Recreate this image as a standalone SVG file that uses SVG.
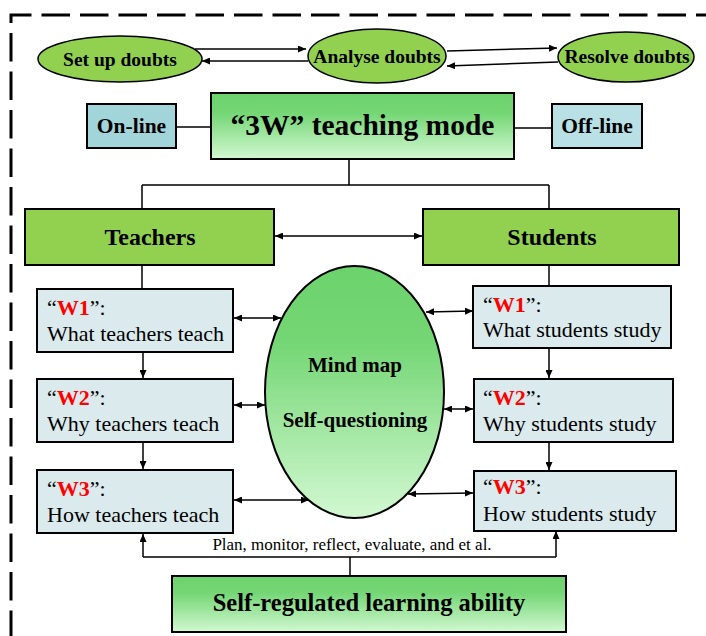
<svg xmlns="http://www.w3.org/2000/svg" width="706" height="636" viewBox="0 0 706 636">
<defs>
<linearGradient id="gg" x1="0" y1="0" x2="0" y2="1">
<stop offset="0" stop-color="#6cd36c"/>
<stop offset="0.3" stop-color="#74d674"/>
<stop offset="1" stop-color="#d2f8d2"/>
</linearGradient>
<marker id="ah" viewBox="0 0 8 7" refX="8" refY="3.5" markerWidth="8" markerHeight="7" markerUnits="userSpaceOnUse" orient="auto-start-reverse">
<path d="M0,0 L8,3.5 L0,7 z" fill="#000"/>
</marker>
<style>
.b{font-family:"Liberation Serif","Times New Roman",serif;font-weight:bold;fill:#000;text-anchor:middle}
.r{font-family:"Liberation Serif","Times New Roman",serif;fill:#000;font-size:22px}
.red{fill:#ff0000;font-weight:bold}
.oval{fill:#92d050;stroke:#000;stroke-width:1.5}
.grad{fill:url(#gg);stroke:#000;stroke-width:2}
.lb{fill:#daeaed;stroke:#000;stroke-width:2}
.gb{fill:#92d050;stroke:#000;stroke-width:2}
.c{fill:none;stroke:#000;stroke-width:1.5}
.a{marker-end:url(#ah)}
.d{marker-start:url(#ah);marker-end:url(#ah)}
</style>
</defs>
<rect width="706" height="636" fill="#fff"/>
<path d="M11,640 L11,15 L710,15" fill="none" stroke="#000" stroke-width="3" stroke-dasharray="28.5 10" stroke-dashoffset="-1"/>

<g id="connectors">
<path class="c a" d="M195,49 L306,49"/>
<path class="c a" d="M308,61 L202,61"/>
<path class="c a" d="M447,51 L557,48"/>
<path class="c a" d="M558,62 L447,66"/>
<path class="c" d="M176,127 L211,127"/>
<path class="c" d="M514,128 L552,128"/>
<path class="c" d="M349,159 L349,185 M142,185 L549,185 M142,185 L142,209 M549,185 L549,209"/>
<path class="c d" d="M275,236 L422,236"/>
<path class="c" d="M142,265 L142,289"/>
<path class="c" d="M549,265 L549,286"/>
<path class="c a" d="M143,352 L143,378"/>
<path class="c a" d="M143,442 L143,469"/>
<path class="c a" d="M549,348 L549,378"/>
<path class="c a" d="M549,442 L549,470"/>
<path class="c" d="M350,576 L350,557 M143,557 L556,557"/>
<path class="c a" d="M143,557 L143,534"/>
<path class="c a" d="M556,557 L556,531"/>
<path class="c d" d="M234,318 L281,318"/>
<path class="c d" d="M234,405 L265,405"/>
<path class="c d" d="M234,500 L309,500"/>
<path class="c d" d="M426,312 L473,311"/>
<path class="c d" d="M444,409 L473,409"/>
<path class="c d" d="M408,494 L473,493"/>
<text class="r" x="352" y="550" text-anchor="middle" style="font-size:17px">Plan, monitor, reflect, evaluate, and et al.</text>
</g>

<g id="setup"><ellipse class="oval" cx="120" cy="59" rx="82" ry="23"/><text class="b" x="120" y="66" font-size="19.5">Set up doubts</text></g>
<g id="analyse"><ellipse class="oval" cx="377" cy="56" rx="69" ry="27"/><text class="b" x="377" y="63" font-size="19.5">Analyse doubts</text></g>
<g id="resolve"><ellipse class="oval" cx="626" cy="57" rx="68" ry="25"/><text class="b" x="627" y="63" font-size="19.5">Resolve doubts</text></g>

<g id="online"><rect x="87" y="104" width="89" height="44" fill="#a2d5d9" stroke="#000" stroke-width="2"/><text class="b" x="131.5" y="133" font-size="21.5">On-line</text></g>
<g id="mode"><rect class="grad" x="211" y="93" width="303" height="66"/><text class="b" x="362.5" y="135" font-size="29.5">“3W” teaching mode</text></g>
<g id="offline"><rect x="552" y="104" width="90" height="44" fill="#b9e0e4" stroke="#000" stroke-width="2"/><text class="b" x="597" y="133" font-size="21.5">Off-line</text></g>

<g id="teachers"><rect class="gb" x="25" y="209" width="249" height="56"/><text class="b" x="150" y="245" font-size="24">Teachers</text></g>
<g id="students"><rect class="gb" x="423" y="209" width="256" height="56"/><text class="b" x="552" y="245" font-size="24">Students</text></g>

<g id="mindmap"><ellipse class="grad" cx="354.5" cy="392" rx="89.5" ry="126" stroke-width="1.5"/>
<text class="b" x="355" y="372" font-size="21">Mind map</text>
<text class="b" x="355" y="427" font-size="21">Self-questioning</text></g>

<g id="tw1"><rect class="lb" x="37" y="289" width="196" height="63"/><text class="r" x="47" y="315">“<tspan class="red">W1</tspan>”:</text><text class="r" x="47" y="341">What teachers teach</text></g>
<g id="tw2"><rect class="lb" x="37" y="379" width="196" height="63"/><text class="r" x="47" y="405">“<tspan class="red">W2</tspan>”:</text><text class="r" x="47" y="431">Why teachers teach</text></g>
<g id="tw3"><rect class="lb" x="37" y="470" width="196" height="63"/><text class="r" x="47" y="496">“<tspan class="red">W3</tspan>”:</text><text class="r" x="47" y="522">How teachers teach</text></g>

<g id="sw1"><rect class="lb" x="473" y="286" width="198" height="62"/><text class="r" x="483" y="312">“<tspan class="red">W1</tspan>”:</text><text class="r" x="483" y="337">What students study</text></g>
<g id="sw2"><rect class="lb" x="474" y="379" width="199" height="63"/><text class="r" x="483" y="405">“<tspan class="red">W2</tspan>”:</text><text class="r" x="483" y="431">Why students study</text></g>
<g id="sw3"><rect class="lb" x="474" y="471" width="202" height="60"/><text class="r" x="483" y="494">“<tspan class="red">W3</tspan>”:</text><text class="r" x="483" y="521">How students study</text></g>

<g id="srl"><rect class="grad" x="172" y="576" width="394" height="56"/><text class="b" x="369" y="611" font-size="24.5">Self-regulated learning ability</text></g>
</svg>
